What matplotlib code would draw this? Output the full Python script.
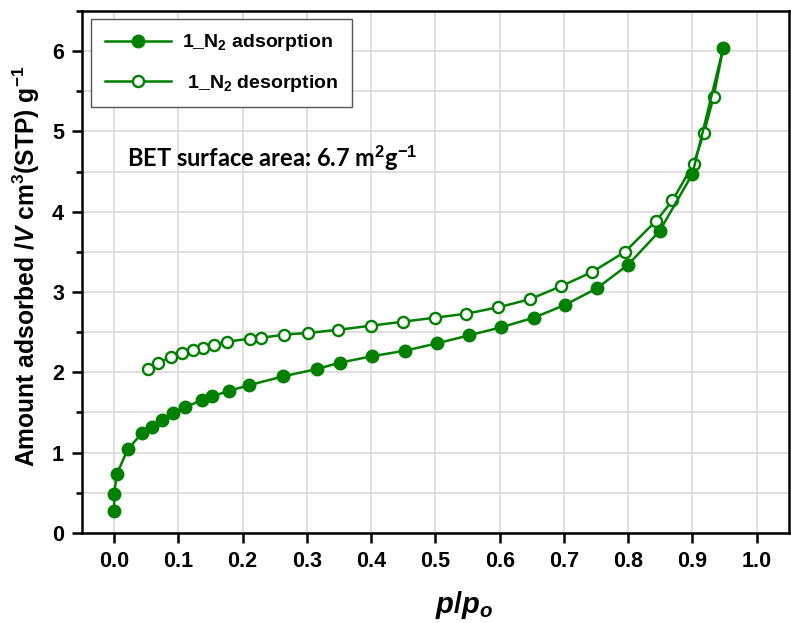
import numpy as np
import matplotlib
matplotlib.use('Agg')
import matplotlib.pyplot as plt
from matplotlib.ticker import MultipleLocator, FormatStrFormatter

plt.rcParams['font.family'] = ['Liberation Sans', 'DejaVu Sans']
plt.rcParams['font.weight'] = 'bold'
plt.rcParams['axes.labelweight'] = 'bold'
plt.rcParams['mathtext.fontset'] = 'custom'
plt.rcParams['mathtext.rm'] = 'Liberation Sans:bold'
plt.rcParams['mathtext.it'] = 'Liberation Sans:bold:italic'
plt.rcParams['mathtext.bf'] = 'Liberation Sans:bold'

# adsorption branch
ads_p = [0.0, 0.0, 0.004, 0.021, 0.043, 0.059, 0.075, 0.091, 0.111, 0.136, 0.152,
         0.179, 0.210, 0.263, 0.315, 0.351, 0.401, 0.453, 0.502, 0.552, 0.602,
         0.653, 0.702, 0.751, 0.800, 0.849, 0.900, 0.948]
ads_v = [0.27, 0.48, 0.73, 1.04, 1.24, 1.32, 1.41, 1.49, 1.57, 1.65, 1.70,
         1.77, 1.84, 1.95, 2.04, 2.12, 2.20, 2.27, 2.36, 2.46, 2.56,
         2.68, 2.84, 3.045, 3.34, 3.76, 4.47, 6.04]

# desorption branch (from high to low pressure)
des_p = [0.933, 0.918, 0.902, 0.869, 0.844, 0.795, 0.744, 0.695, 0.647, 0.598,
         0.548, 0.499, 0.449, 0.399, 0.349, 0.301, 0.265, 0.229, 0.211, 0.175,
         0.156, 0.138, 0.123, 0.106, 0.088, 0.069, 0.052]
des_v = [5.43, 4.98, 4.60, 4.14, 3.89, 3.50, 3.25, 3.07, 2.91, 2.81,
         2.73, 2.68, 2.63, 2.58, 2.53, 2.49, 2.47, 2.43, 2.42, 2.38,
         2.34, 2.30, 2.28, 2.24, 2.19, 2.12, 2.04]

green = '#008000'

fig = plt.figure(figsize=(7.91, 6.23), dpi=100)
ax = fig.add_axes([0.1037, 0.1445, 0.8935, 0.838])

# desorption line starts at the last adsorption point
ax.plot([ads_p[-1]] + des_p, [ads_v[-1]] + des_v, '-o', color=green, lw=1.8,
        ms=8, mfc='white', mec=green, mew=1.7, markevery=list(range(1, len(des_p) + 1)),
        zorder=3)
ax.plot(ads_p, ads_v, '-o', color=green, lw=1.8, ms=9, mfc=green, mec=green, zorder=4)

# legend proxies
h1, = ax.plot([], [], '-o', color=green, lw=1.8, ms=9, mfc=green)
h2, = ax.plot([], [], '-o', color=green, lw=1.8, ms=8, mfc='white', mew=1.7)
leg = ax.legend([h1, h2], ['1_N$_2$ adsorption', ' 1_N$_2$ desorption'],
                loc='upper left', bbox_to_anchor=(0.0127, 0.985), borderaxespad=0,
                fontsize=14, handlelength=3.4, fancybox=False, framealpha=1,
                edgecolor='#555555', borderpad=0.7, labelspacing=1.0, handletextpad=0.6)
leg.get_frame().set_linewidth(1.0)

ax.text(0.064, 0.718, 'BET surface area: 6.7 m$^{2}$g$^{-1}$', transform=ax.transAxes,
        family=['Lato', 'DejaVu Sans'], fontsize=17, fontweight='bold', va='center')

ax.set_xlim(-0.05, 1.05)
ax.set_ylim(0, 6.5)
ax.xaxis.set_major_locator(MultipleLocator(0.1))
ax.xaxis.set_major_formatter(FormatStrFormatter('%.1f'))
ax.yaxis.set_major_locator(MultipleLocator(1))
ax.yaxis.set_minor_locator(MultipleLocator(0.5))
ax.grid(True, which='both', color='#dcdcdc', lw=1.3, zorder=0)
ax.set_axisbelow(True)

ax.tick_params(which='major', direction='out', length=7, width=1.8, labelsize=15.5, pad=6)
ax.tick_params(which='minor', direction='out', length=4, width=1.8)
for s in ax.spines.values():
    s.set_linewidth(1.8)

ax.set_xlabel('$p/p_o$', fontsize=21)
ax.xaxis.set_label_coords(0.54, -0.108)
ax.set_ylabel('Amount adsorbed /$V$ cm$^3$(STP) g$^{-1}$', fontsize=17.7)
ax.yaxis.set_label_coords(-0.056, 0.51)

fig.savefig('out.png', dpi=100)
